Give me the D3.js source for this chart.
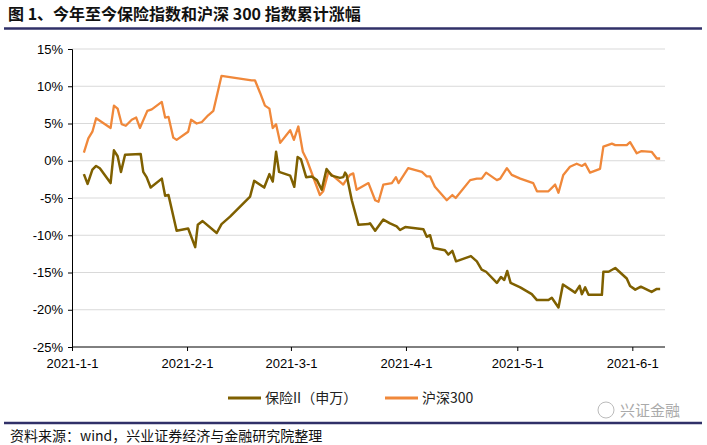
<!DOCTYPE html>
<html><head><meta charset="utf-8">
<script src="https://cdn.jsdelivr.net/npm/d3@7"></script>
<style>body{margin:0;background:#fff}svg{display:block}</style>
</head><body><div class="forSvg"></div>
<script>
// -DATA- day = days since 2021-01-01, value in %
const hsDays = [3.2,4.4,5.5,6.5,10.4,11.3,12.3,13.4,14.5,16.1,17.3,18.3,20.3,21.5,24.2,25.1,26.0,27.3,28.2,31.3,32.1,33.6,35.0,36.7,38.1,40.3,48.4,49.3,50.7,52.0,53.2,54.1,55.0,56.1,58.8,59.8,61.0,62.2,63.3,66.8,67.7,69.1,73.1,73.6,74.9,75.8,76.7,79.9,81.7,82.6,83.9,86.2,87.3,88.0,90.6,94.3,95.6,96.5,97.8,101.0,102.5,103.4,107.3,109.1,110.4,111.6,114.5,115.4,117.2,118.5,120.8,124.3,125.3,128.4,130.2,131.1,132.4,134.2,136.0,137.4,138.3,139.6,142.3,143.2,145.5,146.4,149.5,150.4,152.2,153.5,156.2,157.6,158.5];
const hsVals = [1.1,3.0,3.9,5.7,4.4,7.4,7.0,4.9,4.7,5.5,5.8,4.4,6.7,6.9,7.9,5.8,5.9,3.1,2.8,3.9,5.5,5.0,5.2,6.1,6.7,11.4,10.8,10.8,9.1,7.4,7.0,4.4,4.9,2.4,4.1,2.8,4.6,1.2,0.1,-4.6,-4.1,-1.5,-3.2,-2.8,-1.9,-1.7,-3.9,-3.0,-5.3,-5.5,-3.2,-3.0,-2.2,-3.0,-1.0,-1.5,-2.1,-2.1,-3.5,-5.3,-4.6,-5.0,-2.6,-2.4,-2.4,-1.6,-2.6,-2.4,-1.0,-1.9,-2.4,-3.0,-4.1,-4.1,-3.2,-4.3,-1.9,-0.8,-0.4,-0.7,-0.4,-1.6,-1.1,1.9,2.3,2.1,2.1,2.5,1.0,1.3,1.2,0.3,0.3];
const bxDays = [3.2,4.2,5.5,6.5,7.5,10.4,11.3,12.3,13.2,14.3,18.5,19.2,20.1,21.2,24.2,25.1,26.0,28.2,31.3,33.2,33.9,35.2,39.0,40.3,42.6,48.0,49.1,51.8,53.2,54.1,55.0,55.8,58.8,59.9,60.8,61.7,63.1,64.6,66.0,67.3,68.6,70.0,72.2,73.1,73.6,74.0,75.4,77.2,79.9,80.3,81.7,83.9,85.7,87.5,88.4,89.8,94.7,95.6,96.5,97.4,100.5,101.4,102.5,103.5,107.5,109.1,110.4,111.6,114.5,115.6,116.5,117.3,118.2,120.8,123.9,125.3,128.4,129.3,131.1,132.3,135.6,136.8,137.4,138.3,139.2,142.8,143.2,144.6,146.4,149.5,150.4,151.8,153.3,156.2,157.6,158.5];
const bxVals = [-1.8,-3.1,-1.2,-0.7,-1.0,-3.0,1.4,0.6,-1.5,0.8,0.9,-1.5,-2.2,-3.6,-2.4,-4.7,-4.6,-9.4,-9.1,-11.6,-8.6,-8.1,-9.7,-8.5,-7.5,-4.8,-2.7,-3.6,-1.8,-2.8,1.2,-1.5,-2.0,-3.5,0.5,0.2,-2.2,-2.1,-2.6,-3.9,-1.1,-2.0,-2.3,-2.2,-1.6,-1.9,-5.3,-8.6,-8.5,-8.4,-9.4,-7.9,-8.4,-8.8,-9.3,-8.9,-9.2,-10.2,-10.0,-11.7,-12.0,-12.6,-12.1,-13.5,-12.8,-13.5,-14.6,-14.9,-16.4,-15.6,-16.0,-14.8,-16.4,-17.0,-17.9,-18.7,-18.7,-18.4,-19.7,-16.6,-17.7,-16.8,-17.9,-17.0,-18.0,-18.0,-14.9,-14.9,-14.4,-15.8,-16.8,-17.3,-16.9,-17.6,-17.2,-17.2];
const yTicks = [15,10,5,0,-5,-10,-15,-20,-25];
const xTickLabels = ["2021-1-1","2021-2-1","2021-3-1","2021-4-1","2021-5-1","2021-6-1"];
const seriesNames = ["保险II（申万）","沪深300"];

const svg_w = 707, svg_h = 445;
const colorBx = "#7F6000", colorHs = "#F0883A";
const base = new Date(2021,0,1).getTime();
const toDate = d => new Date(base + d*864e5);
const parse = s => { const p = s.split("-").map(Number); return new Date(p[0],p[1]-1,p[2]); };

const svg = d3.select(".forSvg").append("svg").attr("width",svg_w).attr("height",svg_h);
const cn = "'Noto Sans CJK SC', sans-serif";

// -TITLE-
svg.append("text").attr("x",8).attr("y",20).attr("font-family",cn).attr("font-weight","bold")
  .attr("font-size",16).attr("fill","#111").text("图 1、今年至今保险指数和沪深 300 指数累计涨幅");
svg.append("line").attr("x1",4).attr("x2",702).attr("y1",28.5).attr("y2",28.5).attr("stroke","#303068").attr("stroke-width",2.5);

// -SCALES-
const xScale = d3.scaleTime().domain([new Date(2021,0,1), new Date(2021,5,9)]).range([72,662]);
const yScale = d3.scaleLinear().domain([-25,15]).range([347,49]);

// grid
svg.append("g").selectAll("line").data(yTicks.filter(t=>t>-25)).join("line")
  .attr("x1",72).attr("x2",665).attr("y1",d=>yScale(d)).attr("y2",d=>yScale(d))
  .attr("stroke","#d9d9d9").attr("stroke-width",1.2);

// y axis
const yAxis = d3.axisLeft(yScale).tickValues(yTicks).tickFormat(d=>d+"%").tickSize(4).tickPadding(5);
const gy = svg.append("g").attr("transform","translate(72,0)").call(yAxis);
gy.selectAll("text").attr("font-family","Liberation Sans, Arial").attr("font-size",13).attr("fill","#000");
gy.select(".domain").attr("stroke","#000");

// x axis
const xAxis = d3.axisBottom(xScale).tickValues(xTickLabels.map(parse)).tickFormat((d,i)=>xTickLabels[i]).tickSize(4).tickPadding(8);
const gx = svg.append("g").attr("transform","translate(0,347)").call(xAxis);
gx.select(".domain").attr("d","M72,0H665").attr("stroke","#000");
gx.selectAll("text").attr("font-family","Liberation Sans, Arial").attr("font-size",13).attr("fill","#000");

// -LINES-
const line = d3.line().x(d=>xScale(toDate(d[0]))).y(d=>yScale(d[1]));
svg.append("path").datum(hsDays.map((d,i)=>[d,hsVals[i]])).attr("d",line)
  .attr("fill","none").attr("stroke",colorHs).attr("stroke-width",2.3).attr("stroke-linejoin","round");
svg.append("path").datum(bxDays.map((d,i)=>[d,bxVals[i]])).attr("d",line)
  .attr("fill","none").attr("stroke",colorBx).attr("stroke-width",2.5).attr("stroke-linejoin","round");

// -LEGEND-
const leg = [{x:228,c:colorBx,t:seriesNames[0]},{x:385,c:colorHs,t:seriesNames[1]}];
leg.forEach(l=>{
  svg.append("line").attr("x1",l.x).attr("x2",l.x+33).attr("y1",398).attr("y2",398).attr("stroke",l.c).attr("stroke-width",3);
  svg.append("text").attr("x",l.x+37).attr("y",403).attr("font-family",cn).attr("font-size",14).attr("fill","#222").text(l.t);
});

// watermark
svg.append("circle").attr("cx",606).attr("cy",410).attr("r",8).attr("fill","none").attr("stroke","#bbb").attr("stroke-width",1);
svg.append("text").attr("x",620).attr("y",416).attr("font-family",cn).attr("font-size",15).attr("fill","#aaa").text("兴证金融");

// -FOOTER-
svg.append("line").attr("x1",4).attr("x2",702).attr("y1",423).attr("y2",423).attr("stroke","#303068").attr("stroke-width",2.5);
svg.append("text").attr("x",10).attr("y",441).attr("font-family",cn).attr("font-size",14).attr("fill","#111")
  .text("资料来源：wind，兴业证券经济与金融研究院整理");
</script></body></html>
